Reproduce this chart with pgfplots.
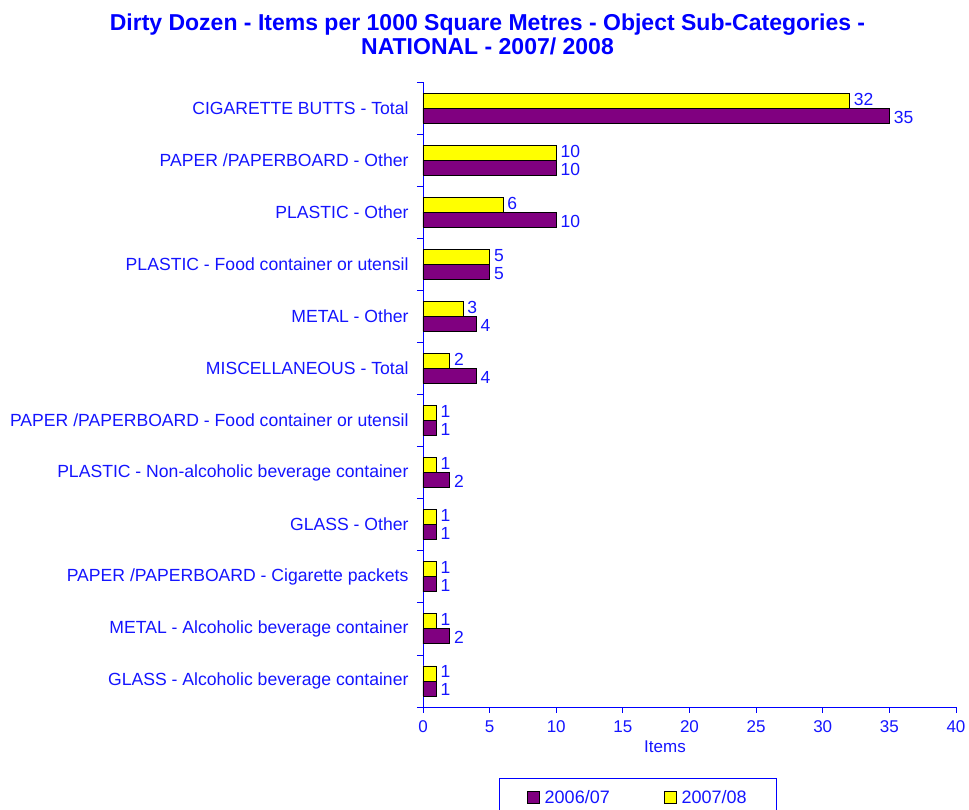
\documentclass[border=0pt]{standalone}
\usepackage{fontspec}
\setmainfont{Liberation Sans}
\usepackage{pgfplots}
\pgfplotsset{compat=1.18}
\definecolor{ddpurple}{RGB}{128,0,128}
\definecolor{ddyellow}{RGB}{255,255,0}
\definecolor{ddblue}{RGB}{0,0,255}
\definecolor{ddtext}{RGB}{20,20,255}
\begin{document}
\begin{tikzpicture}
\begin{axis}[
  scale only axis, width=533pt, height=625pt,
  xbar, xmin=0, xmax=40, ymin=-0.5, ymax=11.5,
  bar width=15pt,
  axis x line*=bottom, axis y line*=left,
  axis line style={ddblue, line width=0.8pt, -},
  xtick={0,5,...,40},
  ytick={0,...,11},
  yticklabels={GLASS - Alcoholic beverage container,
    METAL - Alcoholic beverage container,
    PAPER /PAPERBOARD - Cigarette packets,
    GLASS - Other,
    PLASTIC - Non-alcoholic beverage container,
    PAPER /PAPERBOARD - Food container or utensil,
    MISCELLANEOUS - Total,
    METAL - Other,
    PLASTIC - Food container or utensil,
    PLASTIC - Other,
    PAPER /PAPERBOARD - Other,
    CIGARETTE BUTTS - Total},
  minor ytick={-0.5,0.5,...,11.5},
  every major y tick/.append style={draw=none},
  major tick length=6pt, minor tick length=6pt,
  tick align=outside,
  tick style={ddblue, line width=0.8pt},
  every minor tick/.append style={ddblue, line width=0.8pt},
  ticklabel style={text=ddtext, font=\fontsize{17}{20}\selectfont},
  yticklabel style={xshift=-5pt, font=\fontsize{17.6}{20}\selectfont},
  xticklabel style={yshift=-4pt},
  /pgf/number format/assume math mode=true,
  xlabel={Items},
  xlabel style={at={(axis description cs:0.454,0)}, anchor=north, yshift=-30pt, text=ddtext, font=\fontsize{17}{20}\selectfont},
  nodes near coords,
  point meta=x,
  every node near coord/.append style={text=ddtext, font=\fontsize{17.5}{20}\selectfont, anchor=west, inner sep=1pt, xshift=3pt},
  legend style={at={(axis description cs:0.403,-0.1136)}, anchor=north, legend columns=2, draw=ddblue, line width=0.8pt, text=ddtext, font=\fontsize{18}{20}\selectfont, inner xsep=28pt, inner ysep=10pt, /tikz/every even column/.append style={column sep=52pt}, /tikz/every odd column/.append style={column sep=3pt}},
  legend image code/.code={\draw[#1, line width=0.8pt] (0pt,-6pt) rectangle (12pt,6pt);},
]
\addplot[draw=black, fill=ddpurple, line width=0.8pt, bar shift=-7.5pt, every node near coord/.append style={yshift=-1.5pt}] coordinates {
(1,0) (2,1) (1,2) (1,3) (2,4) (1,5) (4,6) (4,7) (5,8) (10,9) (10,10) (35,11)};
\addplot[draw=black, fill=ddyellow, line width=0.8pt, bar shift=7.5pt, every node near coord/.append style={yshift=1.5pt}] coordinates {
(1,0) (1,1) (1,2) (1,3) (1,4) (1,5) (2,6) (3,7) (5,8) (6,9) (10,10) (32,11)};
\legend{2006/07, 2007/08}
\end{axis}
\node[anchor=north, align=center, text=ddblue, font=\fontsize{23}{24.5}\selectfont\bfseries] at (64.5pt,697pt)
  {Dirty Dozen - Items per 1000 Square Metres - Object Sub-Categories -\\NATIONAL - 2007/ 2008};
\pgfresetboundingbox
\path (-423pt,-103pt) rectangle (546pt,707pt);
\end{tikzpicture}
\end{document}
